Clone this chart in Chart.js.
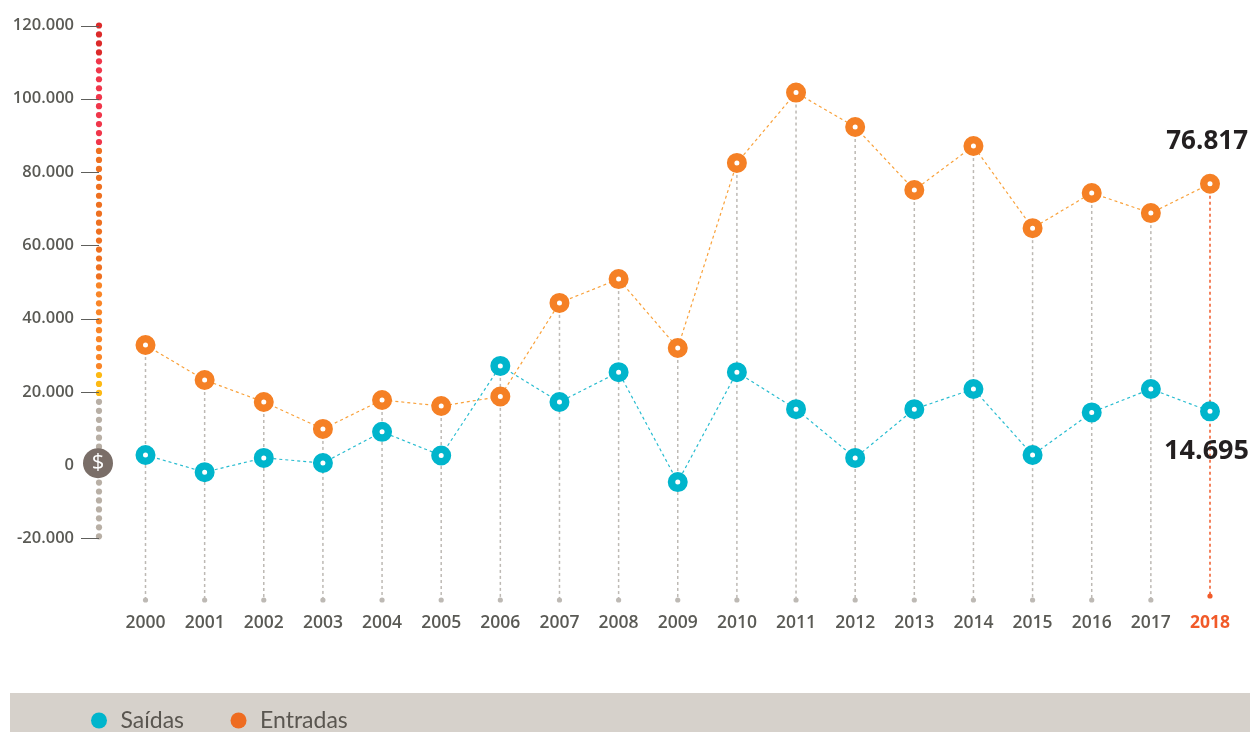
<!DOCTYPE html>
<html lang="pt">
<head>
<meta charset="utf-8">
<title>Saídas e Entradas</title>
<style>
html,body{margin:0;padding:0;background:#fff;overflow:hidden}
#wrap{position:relative;width:1250px;height:732px}
#band{position:absolute;left:10px;right:0;top:693px;bottom:0;background:#d6d1cb}
canvas{position:absolute;left:0;top:0}
</style>
<script src="https://cdn.jsdelivr.net/npm/chart.js@4"></script>
</head>
<body>
<div id="wrap"><div id="band"></div><canvas id="c" width="1250" height="732"></canvas></div>
<script>
const years = ["2000","2001","2002","2003","2004","2005","2006","2007","2008","2009","2010","2011","2012","2013","2014","2015","2016","2017","2018"];
const saidas = [2800,-1900,2000,600,9100,2650,27100,17250,25400,-4600,25400,15300,2000,15300,20800,2800,14400,20800,14695];
const entradas = [32800,23250,17250,9900,17800,16150,18750,44300,50800,32000,82500,101700,92300,75100,87100,64700,74300,68800,76817];
const yTicks = [-20000,0,20000,40000,60000,80000,100000,120000];
const yMin = -36240, yMax = 120000;
const gaugeBands = [
  {from:120000, color:"#dc2a2a"},
  {from:111000, color:"#f0364a"},
  {from:86000, color:"#ee7020"},
  {from:50000, color:"#f98527"},
  {from:25000, color:"#fdb913"},
  {from:18500, color:"#b8afa5"}
];
const gaugeCount = 58;
const FONT = '"Open Sans", sans-serif';

const brFmt = v => String(v).replace(/\B(?=(\d{3})+$)/g, ".");

const decor = {
  id:"decor",
  afterLayout(chart){
    const lg = chart.legend;
    const p = lg.options.labels.padding;
    lg.left = 89 - p;
    lg.top = 720.5 - 11.5 - p;
  },
  beforeDatasetsDraw(chart){
    const {ctx, scales:{x,y}, chartArea} = chart;
    ctx.save();
    const gx = chartArea.left - 46.5;
    for(let i=0;i<gaugeCount;i++){
      const v = 120000 - i*(139400/(gaugeCount-1));
      let col = gaugeBands[0].color;
      gaugeBands.forEach(b=>{ if(v<=b.from) col=b.color; });
      ctx.fillStyle = col;
      ctx.beginPath(); ctx.arc(gx, y.getPixelForValue(v), 3.1, 0, Math.PI*2); ctx.fill();
    }
    ctx.strokeStyle = "#5f5f5c"; ctx.lineWidth = 1;
    yTicks.forEach(t=>{
      if(t===0) return;
      const py = Math.round(y.getPixelForValue(t))+0.5;
      ctx.beginPath(); ctx.moveTo(gx-18,py); ctx.lineTo(gx,py); ctx.stroke();
    });
    const zy = y.getPixelForValue(0)-2;
    ctx.fillStyle = "#7a6e68";
    ctx.beginPath(); ctx.arc(gx-1, zy, 15, 0, Math.PI*2); ctx.fill();
    ctx.fillStyle = "#fff"; ctx.font = '22px '+FONT; ctx.textAlign="center"; ctx.textBaseline="middle";
    ctx.fillText("$", gx-1, zy);
    years.forEach((yr,i)=>{
      const last = i===years.length-1;
      const px = x.getPixelForValue(i);
      const top = y.getPixelForValue(Math.max(saidas[i],entradas[i]));
      const col = last ? "#f15a29" : "#bdb9b4";
      const bottom = chartArea.bottom + (last ? -2 : 2);
      ctx.strokeStyle = col; ctx.lineWidth = 1.5; ctx.setLineDash([3,3]);
      ctx.beginPath(); ctx.moveTo(px,top); ctx.lineTo(px,bottom); ctx.stroke();
      ctx.setLineDash([]);
      ctx.fillStyle = col;
      ctx.beginPath(); ctx.arc(px,bottom,2.6,0,Math.PI*2); ctx.fill();
    });
    ctx.restore();
  },
  afterDatasetsDraw(chart){
    const {ctx, scales:{y}} = chart;
    const n = years.length-1;
    ctx.save();
    ctx.fillStyle = "#231f20"; ctx.textAlign="right"; ctx.textBaseline="middle";
    ctx.font = '700 26px '+FONT;
    ctx.fillText(brFmt(entradas[n]), 1248, y.getPixelForValue(entradas[n])-42);
    ctx.font = '700 27px '+FONT;
    ctx.fillText(brFmt(saidas[n]), 1249, y.getPixelForValue(saidas[n])+40);
    ctx.restore();
  }
};

const ds = (label,data,line,point) => ({
  label, data,
  borderColor: line, borderWidth: 1.2, borderDash:[3,3], tension:0, fill:false,
  pointRadius:6.25, pointHoverRadius:6.25, pointBorderWidth:7.5, pointHoverBorderWidth:7.5,
  pointBackgroundColor:"#fff", pointBorderColor:point, pointHoverBackgroundColor:"#fff", pointHoverBorderColor:point
});

const legendColors = ["#00b5cc","#ee6c21"];

new Chart(document.getElementById("c"), {
  type:"line",
  data:{labels:years, datasets:[
    ds("Saídas",saidas,"#27bcd0","#00b5cc"),
    ds("Entradas",entradas,"#f9a13a","#f58025")
  ]},
  plugins:[decor],
  options:{
    responsive:false, animation:false,
    layout:{padding:{left:0,right:40,top:25.5,bottom:0}},
    plugins:{
      tooltip:{enabled:false},
      legend:{
        display:true, position:"bottom", align:"start",
        labels:{
          usePointStyle:true, pointStyle:"circle", boxWidth:20, boxHeight:11.3, padding:44.5,
          color:"#5a5650", font:{family:"Lato, sans-serif", size:23},
          generateLabels:(chart)=>chart.data.datasets.map((d,i)=>({
            text:d.label, fillStyle:legendColors[i], strokeStyle:legendColors[i], lineWidth:0,
            pointStyle:"circle", datasetIndex:i, hidden:false, fontColor:"#5a5650"
          }))
        }
      }
    },
    scales:{
      x:{
        type:"category", offset:false,
        border:{display:false},
        grid:{display:false},
        afterFit(s){ s.height = 732-598-(s.chart.legend?s.chart.legend.height:0); },
        ticks:{
          autoSkip:false, maxRotation:0, minRotation:0, padding:7,
          font:(c)=>({family:FONT, size:17.5, weight: c.index===years.length-1 ? "700" : "600"}),
          color:(c)=> c.index===years.length-1 ? "#f15a29" : "#5a5a55"
        }
      },
      y:{
        type:"linear", min:yMin, max:yMax,
        border:{display:false},
        grid:{display:false, drawTicks:true, tickLength:71},
        afterBuildTicks(s){ s.ticks = yTicks.map(v=>({value:v})); },
        afterFit(s){ s.width = 145.5; },
        ticks:{
          padding:0.5, autoSkip:false,
          font:{family:FONT, size:16.5, weight:"600"},
          color:"#5a5a55",
          callback:(v)=> (v<0?"-":"")+brFmt(Math.abs(v))
        }
      }
    }
  }
});
</script>
</body>
</html>
